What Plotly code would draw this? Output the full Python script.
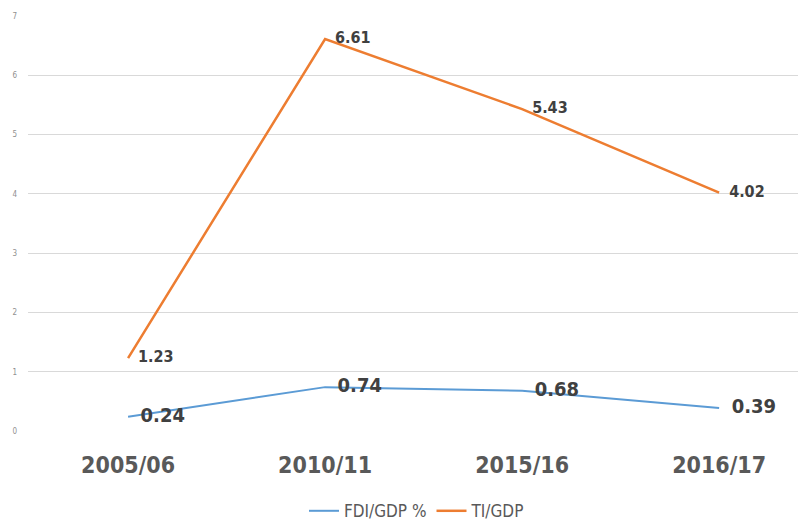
import plotly.graph_objects as go

# Data
years = ['2005/06', '2010/11', '2015/16', '2016/17']
fdi_gdp = [0.24, 0.74, 0.68, 0.39]
ti_gdp = [1.23, 6.61, 5.43, 4.02]

FONT = 'DejaVu Sans Condensed, Liberation Sans Narrow, Roboto, sans-serif'
BLUE = '#5B9BD5'
ORANGE = '#ED7D31'

fig = go.Figure()

# FDI/GDP line with big value labels
fig.add_trace(go.Scatter(
    x=years, y=fdi_gdp, name='FDI/GDP %', mode='lines+text',
    line=dict(color=BLUE, width=2),
    text=[f'  {v:.2f}' for v in fdi_gdp], textposition='middle right',
    textfont=dict(family=FONT, size=20, color='#404040', weight='bold'),
    cliponaxis=False))

# TI/GDP line
fig.add_trace(go.Scatter(
    x=years, y=ti_gdp, name='TI/GDP', mode='lines+text',
    line=dict(color=ORANGE, width=2.5),
    text=[f'  {v:.2f}' for v in ti_gdp], textposition='middle right',
    textfont=dict(family=FONT, size=16, color='#404040', weight='bold'),
    cliponaxis=False))

# the page body adds an 8px margin, so the figure is 8px smaller and shifted
fig.update_layout(
    width=798, height=514,
    margin=dict(l=20, r=0, t=8, b=91, autoexpand=False),
    paper_bgcolor='white', plot_bgcolor='white',
    font=dict(family=FONT, color='#595959'),
    showlegend=True,
    legend=dict(orientation='h', x=0.5, xanchor='center', y=-0.15, yanchor='top',
                font=dict(size=17, color='#595959')),
    xaxis=dict(type='category', range=[-0.508, 3.441], showgrid=False,
               showline=False, zeroline=False, ticks='', automargin=False,
               ticklabelstandoff=18,
               tickfont=dict(size=23, color='#595959', weight='bold')),
    yaxis=dict(range=[0, 7], dtick=1, showgrid=True, gridcolor='#d9d9d9',
               gridwidth=1, zeroline=False, showline=False, automargin=False,
               tickfont=dict(size=8, color='#909090'), ticklabelstandoff=10),
)

fig.write_html('out.html')
